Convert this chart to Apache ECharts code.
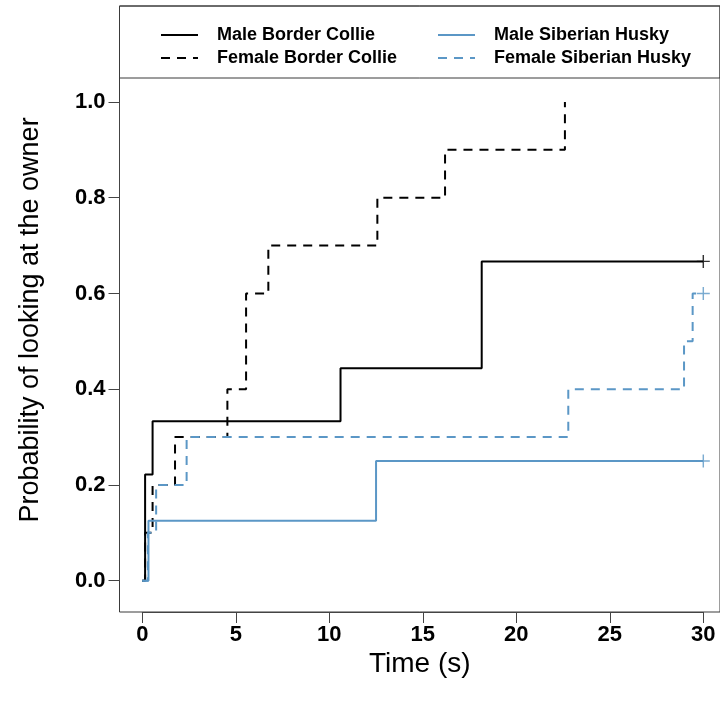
<!DOCTYPE html>
<html>
<head>
<meta charset="utf-8">
<script src="https://cdn.jsdelivr.net/npm/echarts@6/dist/echarts.min.js"></script>
<style>html,body{margin:0;padding:0;background:#fff}#c{width:720px;height:704px}</style>
</head>
<body>
<div id="c"></div>
<script>
// Time (s) at which each curve steps, and the cumulative probability after the step
const maleCollieT = [0, 0.15, 0.55, 10.6, 18.15, 30];
const maleCollieP = [0, 0.222, 0.333, 0.444, 0.667, 0.667];
const femaleCollieT = [0, 0.15, 0.55, 1.75, 4.55, 5.55, 6.74, 12.57, 16.19, 22.6];
const femaleCollieP = [0, 0.1, 0.2, 0.3, 0.4, 0.6, 0.7, 0.8, 0.9, 1.0];
const maleHuskyT = [0, 0.33, 12.5, 30];
const maleHuskyP = [0, 0.125, 0.25, 0.25];
const femaleHuskyT = [0, 0.3, 0.74, 2.37, 22.78, 28.97, 29.43, 30];
const femaleHuskyP = [0, 0.1, 0.2, 0.3, 0.4, 0.5, 0.6, 0.6];
// censored observations (+ marks)
const censorMaleCollie = [[30, 0.667]];
const censorMaleHusky = [[30, 0.25]];
const censorFemaleHusky = [[30, 0.6]];
const seriesNames = ['Male Border Collie', 'Female Border Collie', 'Male Siberian Husky', 'Female Siberian Husky'];
const xTicks = [0, 5, 10, 15, 20, 25, 30];
const yTicks = [0, 0.2, 0.4, 0.6, 0.8, 1.0];

const BLUE = '#5b97c6';
const FONT = 'Liberation Sans';
const zip = (t, p) => t.map((v, i) => [v, p[i]]);
const plus = 'path://M-1.1,-10H1.1V-1.1H10V1.1H1.1V10H-1.1V1.1H-10V-1.1H-1.1Z';

function lineSeries(name, t, p, color, dashed) {
  return {
    type: 'line', name: name, xAxisIndex: 0, yAxisIndex: 0,
    data: zip(t, p), step: 'end', symbol: 'none', showSymbol: false, clip: false,
    lineStyle: { color: color, width: 2, type: dashed ? [9, 7] : 'solid' },
    itemStyle: { color: color }, z: 5
  };
}
function censorSeries(name, d, color) {
  return {
    type: 'scatter', name: name, xAxisIndex: 0, yAxisIndex: 0, data: d,
    symbol: plus, symbolSize: 13, itemStyle: { color: color }, clip: false, z: 6
  };
}
const hiddenAxis = (g) => ({ type: 'value', gridIndex: g, show: false, min: 0, max: 1 });

function makeLegend(names, left) {
  return {
    data: names, left: left, top: 26, orient: 'vertical', padding: 0,
    itemWidth: 37, itemHeight: 14, itemGap: 5, selectedMode: false,
    itemStyle: { opacity: 0 },
    lineStyle: { width: 2 },
    textStyle: { fontSize: 18, fontWeight: 'bold', color: '#000', fontFamily: FONT, padding: [0, 0, 0, 14], lineHeight: 18 }
  };
}

const option = {
  animation: false,
  backgroundColor: '#fff',
  grid: [
    { left: 142.3, right: 16.7, top: 102, bottom: 123.3 },
    { left: 119.5, top: 6, width: 606.2, height: 606, show: true, borderColor: '#3a3a3a', borderWidth: 1, backgroundColor: 'rgba(0,0,0,0)' },
    { left: 119.5, top: 6, width: 606.2, height: 72, show: true, borderColor: '#3a3a3a', borderWidth: 1, backgroundColor: 'rgba(0,0,0,0)' }
  ],
  xAxis: [
    {
      type: 'value', gridIndex: 0, min: xTicks[0], max: xTicks[xTicks.length - 1], interval: 5,
      position: 'bottom', offset: 31.3,
      axisLine: { show: true, onZero: false, lineStyle: { color: '#444', width: 1 } },
      axisTick: { show: true, length: 11, lineStyle: { color: '#444' } },
      axisLabel: { fontSize: 22, fontWeight: 'bold', color: '#000', fontFamily: FONT, margin: 12 },
      splitLine: { show: false }
    },
    {
      type: 'value', gridIndex: 1, min: 0, max: 1, name: 'Time (s)', nameLocation: 'middle', nameGap: 38,
      nameTextStyle: { fontSize: 28, color: '#000', fontFamily: FONT },
      axisLine: { show: false }, axisTick: { show: false }, axisLabel: { show: false }, splitLine: { show: false }
    },
    hiddenAxis(2)
  ],
  yAxis: [
    {
      type: 'value', gridIndex: 0, min: yTicks[0], max: yTicks[yTicks.length - 1], interval: 0.2,
      position: 'left', offset: 22.8,
      axisLine: { show: true, onZero: false, lineStyle: { color: '#444', width: 1 } },
      axisTick: { show: true, length: 11, lineStyle: { color: '#444' } },
      axisLabel: { fontSize: 22, fontWeight: 'bold', color: '#000', fontFamily: FONT, margin: 14, formatter: v => v.toFixed(1) },
      splitLine: { show: false }
    },
    {
      type: 'value', gridIndex: 1, min: 0, max: 1, name: 'Probability of looking at the owner', nameLocation: 'middle', nameGap: 75,
      nameTextStyle: { fontSize: 27, color: '#000', fontFamily: FONT, padding: [0, 22, 0, 0] },
      axisLine: { show: false }, axisTick: { show: false }, axisLabel: { show: false }, splitLine: { show: false }
    },
    hiddenAxis(2)
  ],
  legend: [
    makeLegend([seriesNames[0], seriesNames[1]], 160),
    makeLegend([seriesNames[2], seriesNames[3]], 437)
  ],
  series: [
    lineSeries(seriesNames[0], maleCollieT, maleCollieP, '#000', false),
    lineSeries(seriesNames[1], femaleCollieT, femaleCollieP, '#000', true),
    lineSeries(seriesNames[2], maleHuskyT, maleHuskyP, BLUE, false),
    lineSeries(seriesNames[3], femaleHuskyT, femaleHuskyP, BLUE, true),
    censorSeries('censor-mbc', censorMaleCollie, '#000'),
    censorSeries('censor-msh', censorMaleHusky, BLUE),
    censorSeries('censor-fsh', censorFemaleHusky, BLUE)
  ]
};
const chart = echarts.init(document.getElementById('c'), null, { renderer: 'canvas' });
chart.setOption(option);
</script>
</body>
</html>
